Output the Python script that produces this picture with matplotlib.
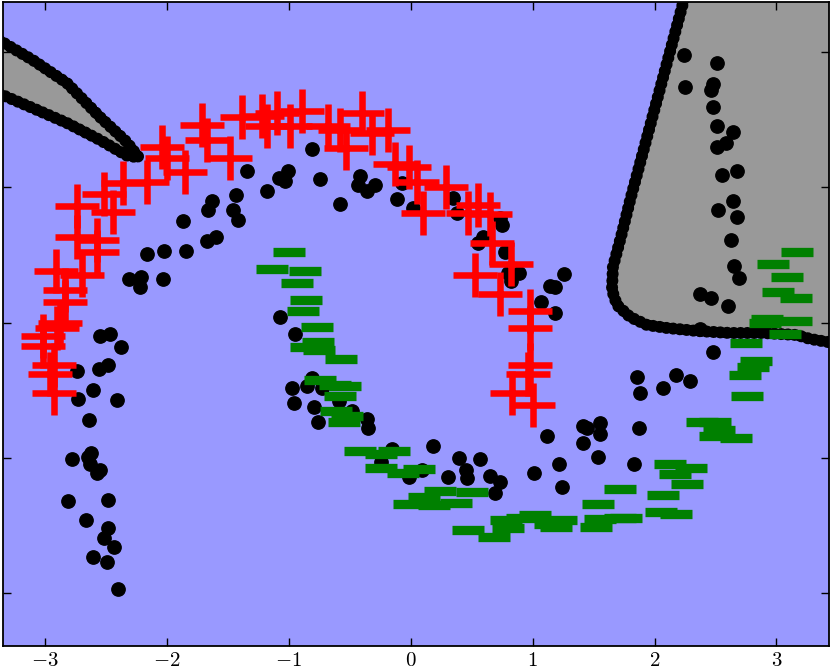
import numpy as np
import matplotlib
matplotlib.use("Agg")
import matplotlib.pyplot as plt

plt.rcParams['mathtext.fontset'] = 'cm'

# ---- data ----
red_x = [-3.02, -3.02, -2.90, -2.88, -2.93, -2.96, -2.93, -2.84, -2.84, -2.91, -2.70, -2.74, -2.57, -2.57,
         -2.74, -2.52, -2.44, -2.36, -2.16, -2.04, -2.00, -1.85, -1.71, -1.67, -1.48, -1.38, -1.22, -1.18,
         -1.10, -0.99, -0.89, -0.68, -0.58, -0.53, -0.40, -0.32, -0.19, -0.13, -0.01, 0.05, 0.10, 0.29,
         0.47, 0.55, 0.65, 0.67, 0.82, 0.53, 0.73, 0.98, 0.98, 0.98, 0.96, 0.83, 1.00]
red_y = [-0.10, -0.17, -0.04, 0.00, -0.31, -0.38, -0.52, 0.15, 0.24, 0.38, 0.35, 0.63, 0.52, 0.61,
         0.86, 0.95, 0.82, 1.03, 1.04, 1.30, 1.22, 1.11, 1.46, 1.35, 1.22, 1.52, 1.53, 1.45,
         1.55, 1.45, 1.56, 1.45, 1.42, 1.29, 1.55, 1.40, 1.42, 1.17, 1.15, 1.04, 0.81, 1.00,
         0.81, 0.87, 0.80, 0.59, 0.43, 0.35, 0.21, 0.09, -0.04, -0.31, -0.38, -0.52, -0.61]

green_x = [-1.00, -1.14, -0.87, -0.93, -0.86, -0.88, -0.77, -0.76, -0.86, -0.75, -0.57, -0.74, -0.62,
           -0.54, -0.58, -0.61, -0.52, -0.55, -0.42, -0.14, -0.24, -0.24, -0.06, 0.07, 0.24, 0.50,
           0.11, -0.01, 0.19, 0.37, 0.78, 0.91, 1.02, 0.47, 0.68, 0.80, 1.14, 1.23, 1.19, 1.52,
           1.55, 1.72, 1.77, 1.54, 1.72, 2.05, 2.18, 2.07, 2.27, 2.17, 2.30, 2.13, 2.39, 2.50,
           2.53, 2.50, 2.67, 3.17, 2.97, 3.09, 3.01, 3.16, 2.92, 2.91, 3.16, 3.07, 2.75, 2.83,
           2.81, 2.74, 2.76]
green_y = [0.52, 0.40, 0.38, 0.29, 0.17, 0.09, -0.03, -0.14, -0.18, -0.20, -0.27, -0.42, -0.46,
           -0.47, -0.54, -0.65, -0.69, -0.73, -0.95, -0.95, -0.97, -1.07, -1.11, -1.08, -1.24, -1.25,
           -1.29, -1.34, -1.35, -1.33, -1.46, -1.44, -1.42, -1.53, -1.58, -1.52, -1.49, -1.46, -1.51, -1.51,
           -1.45, -1.44, -1.44, -1.34, -1.23, -1.40, -1.41, -1.27, -1.19, -1.12, -1.07, -1.04, -0.73, -0.73,
           -0.79, -0.84, -0.85, 0.52, 0.43, 0.34, 0.23, 0.18, 0.03, 0.00, 0.01, -0.08, -0.15, -0.28,
           -0.33, -0.39, -0.54]

black_x = [-1.34, -1.18, -1.43, -1.63, -1.66, -1.46, -1.87, -1.42, -1.08, -1.60, -1.67, -2.16, -2.02,
           -1.84, -2.31, -2.21, -2.22, -2.03, -0.81, -1.01, -1.03, -0.74, -0.42, -0.43, -0.36, -0.29,
           -0.58, -0.11, -0.07, 0.02, 0.35, 0.38, 0.73, -2.55, -2.47, -2.38, -2.74, -2.56, -2.48,
           -2.61, -2.73, -2.41, -2.64, -2.62, -2.78, -2.65, -2.63, -2.55, -2.57, -2.81, -2.48, -2.66,
           -2.48, -2.52, -2.43, -2.61, -2.49, -2.40, -1.07, -0.95, 0.75, 0.55, 0.59, 0.77, 0.80, 0.89,
           0.82, 1.14, 1.07, -0.97, -0.85, -0.81, -0.73, -0.96, -0.79, -0.59, -0.76, -0.48, -0.36,
           -0.35, 2.24, 2.51, 2.25, 2.48, 2.46, 2.48, 2.51, 2.64, 2.59, 2.51, 2.55, 2.68, 2.52, 2.64,
           2.68, 2.63, 2.65, 2.69, 2.37, 2.46, 2.60, 2.37, 1.26, 1.18, 1.18, 2.48, 1.86, 2.18, 2.29,
           2.07, 1.88, 1.41, 1.55, 1.87, 1.45, 1.55, 1.41, 1.22, 1.54, 1.83, 1.24, 1.12, -0.15, 0.18,
           -0.24, -0.01, 0.09, 0.40, 0.57, 0.45, 0.46, 0.31, 0.65, 0.73, 0.69, 1.01]
black_y = [1.12, 0.97, 0.94, 0.90, 0.83, 0.83, 0.75, 0.76, 1.07, 0.63, 0.60, 0.51, 0.53,
           0.53, 0.32, 0.34, 0.26, 0.32, 1.28, 1.12, 1.05, 1.06, 1.08, 1.02, 0.97, 1.02,
           0.88, 0.91, 1.03, 0.85, 0.92, 0.81, 0.77, -0.10, -0.08, -0.18, -0.36, -0.34, -0.31,
           -0.50, -0.56, -0.57, -0.72, -0.96, -1.01, -0.99, -1.04, -1.09, -1.11, -1.32, -1.31, -1.46,
           -1.52, -1.59, -1.66, -1.73, -1.77, -1.97, 0.04, -0.08, 0.72, 0.59, 0.63, 0.52, 0.37, 0.37,
           0.31, 0.27, 0.15, -0.48, -0.47, -0.41, -0.48, -0.59, -0.62, -0.58, -0.73, -0.65, -0.71,
           -0.78, 1.98, 1.92, 1.74, 1.76, 1.72, 1.59, 1.45, 1.41, 1.33, 1.30, 1.09, 1.12, 0.83, 0.90,
           0.78, 0.61, 0.42, 0.33, 0.21, 0.18, 0.12, -0.05, 0.36, 0.26, 0.07, -0.22, -0.40, -0.39, -0.43,
           -0.48, -0.52, -0.76, -0.74, -0.78, -0.78, -0.82, -0.89, -1.04, -0.99, -1.04, -1.21, -0.84, -0.93, -0.91,
           -1.03, -1.14, -1.09, -1.00, -1.01, -1.09, -1.15, -1.14, -1.13, -1.18, -1.26, -1.11]

# decision boundary curves (data coordinates)
wedge_upper_x = [-3.45, -3.345, -3.10, -2.82, -2.55, -2.33, -2.23]
wedge_upper_y = [2.13, 2.07, 1.94, 1.77, 1.52, 1.335, 1.22]
wedge_lower_x = [-2.23, -2.33, -2.55, -2.82, -3.10, -3.345, -3.45]
wedge_lower_y = [1.22, 1.235, 1.35, 1.475, 1.585, 1.68, 1.72]

right_x = [2.275, 2.234, 1.80, 1.733, 1.659, 1.651, 1.692, 1.80, 1.938, 2.102, 2.348, 2.619, 2.89,
           3.169, 3.276, 3.416, 3.60]
right_y = [2.50, 2.361, 0.905, 0.662, 0.411, 0.241, 0.131, 0.042, -0.017, -0.039, -0.061, -0.076,
           -0.076, -0.091, -0.120, -0.142, -0.15]

xticks = [-3, -2, -1, 0, 1, 2, 3]
yticks = [-2, -1, 0, 1, 2]

BLUE = '#9999ff'
GRAY = '#999999'

fig = plt.figure(figsize=(8.3, 6.7), dpi=100)
ax = fig.add_axes([2.7 / 830, 24 / 670, 826 / 830, 644.3 / 670])
ax.set_facecolor(BLUE)
xlim = (-3.347, 3.429)
ylim = (-2.388, 2.371)

# gray regions
wx = wedge_upper_x + wedge_lower_x
wy = wedge_upper_y + wedge_lower_y
ax.fill(wx, wy, color=GRAY, zorder=1, lw=0)
rx = right_x + [3.6]
ry = right_y + [2.5]
ax.fill(rx, ry, color=GRAY, zorder=1, lw=0)

bstyle = dict(color='black', lw=8.7, linestyle=(0, (0.01, 0.55)),
              dash_capstyle='round', solid_capstyle='round', zorder=2)
ax.plot(wx, wy, **bstyle)
ax.plot(right_x, right_y, **bstyle)

ax.plot(black_x, black_y, 'o', color='black', ms=9.6, zorder=3)
ax.plot(red_x, red_y, '+', color='#ff0000', ms=31, mew=4.7, zorder=4)
ax.plot(green_x, green_y, '_', color='#008000', ms=23.5, mew=6.7, zorder=4)

ax.set_xlim(*xlim)
ax.set_ylim(*ylim)
ax.set_xticks(xticks)
ax.set_xticklabels(['$%d$' % t if t >= 0 else '$-%d$' % (-t) for t in xticks], fontsize=15)
ax.set_yticks(yticks)
ax.set_yticklabels([])
ax.tick_params(direction='in', top=True, right=True, length=6, width=1, pad=3)
for s in ax.spines.values():
    s.set_linewidth(1.3)
    s.set_zorder(10)

fig.savefig('out.png', dpi=100)
